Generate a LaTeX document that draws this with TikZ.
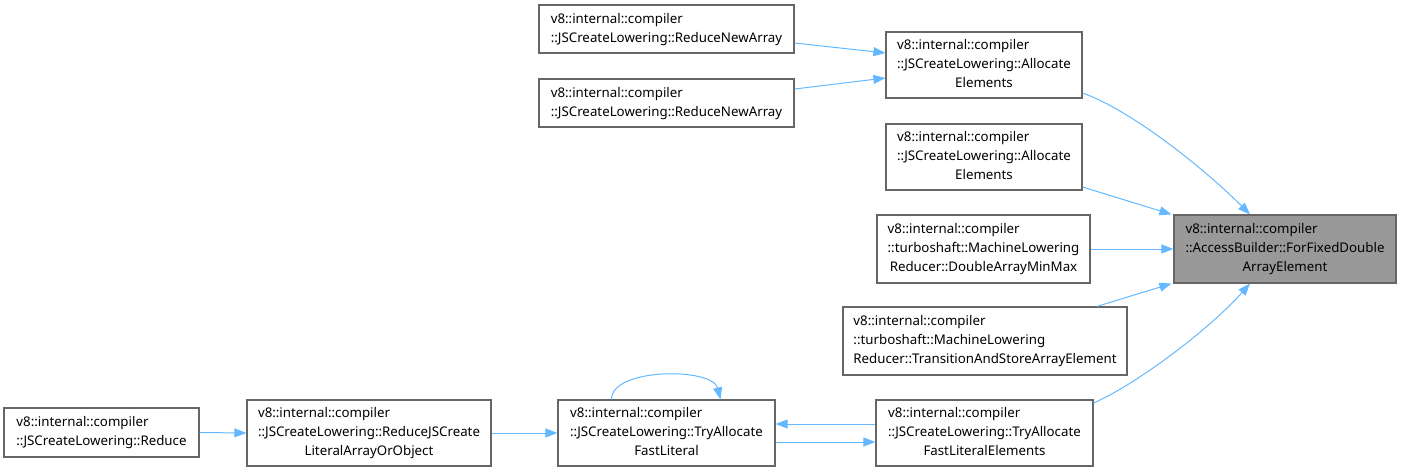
\documentclass[tikz,border=0pt]{standalone}
\usepackage{fontspec}
\setmainfont{Noto Sans}
\usepackage{array}
\usetikzlibrary{arrows.meta}
\definecolor{cedge}{RGB}{99,184,255}
\definecolor{cframe}{RGB}{102,102,102}
\definecolor{chigh}{RGB}{153,153,153}
\tikzset{
  box/.style={draw=cframe, line width=1.2pt, fill=white, inner sep=0pt,
              font=\fontsize{13.3}{19}\selectfont},
  hbox/.style={box, fill=chigh},
  arr/.style={-{Triangle[length=12pt, width=9pt]}, line width=1pt, draw=cedge},
}
% lines left aligned, last line centred
\newcommand{\fname}[2]{\begin{tabular}{@{}l@{}}#1\\\multicolumn{1}{@{}c@{}}{#2}\end{tabular}}

\begin{document}
\begin{tikzpicture}[x=1pt, y=-1pt]
\useasboundingbox (0,0) rectangle (1402,473);

% ---------- callees (right column) ----------
\node[hbox, minimum width=222pt, minimum height=68pt] (target) at (1285,249)
  {\fname{v8::internal::compiler\\::AccessBuilder::ForFixedDouble}{ArrayElement}};

% ---------- direct callers ----------
\node[box, minimum width=196pt, minimum height=66pt] (alloc1) at (984,65)
  {\fname{v8::internal::compiler\\::JSCreateLowering::Allocate}{Elements}};
\node[box, minimum width=196pt, minimum height=66pt] (alloc2) at (984,157)
  {\fname{v8::internal::compiler\\::JSCreateLowering::Allocate}{Elements}};
\node[box, minimum width=213pt, minimum height=68pt] (minmax) at (983.5,249)
  {\fname{v8::internal::compiler\\::turboshaft::MachineLowering}{Reducer::DoubleArrayMinMax}};
\node[box, minimum width=284pt, minimum height=68pt] (store) at (985,341)
  {\fname{v8::internal::compiler\\::turboshaft::MachineLowering}{Reducer::TransitionAndStoreArrayElement}};
\node[box, minimum width=217pt, minimum height=66pt] (fastel) at (984.5,433)
  {\fname{v8::internal::compiler\\::JSCreateLowering::TryAllocate}{FastLiteralElements}};

% ---------- second level ----------
\node[box, minimum width=255pt, minimum height=48pt] (newarr1) at (666.5,29)
  {\fname{v8::internal::compiler}{::JSCreateLowering::ReduceNewArray}};
\node[box, minimum width=255pt, minimum height=48pt] (newarr2) at (666.5,103)
  {\fname{v8::internal::compiler}{::JSCreateLowering::ReduceNewArray}};
\node[box, minimum width=217pt, minimum height=66pt] (fastlit) at (666.5,433)
  {\fname{v8::internal::compiler\\::JSCreateLowering::TryAllocate}{FastLiteral}};
\node[box, minimum width=244pt, minimum height=66pt] (literal) at (369,433)
  {\fname{v8::internal::compiler\\::JSCreateLowering::ReduceJSCreate}{LiteralArrayOrObject}};
\node[box, minimum width=195pt, minimum height=49pt] (reduce) at (101.5,432.5)
  {\fname{v8::internal::compiler}{::JSCreateLowering::Reduce}};

% ---------- edges ----------
\draw[arr] ([yshift=-14pt]newarr1.east) -- ([yshift=12pt]alloc1.west);
\draw[arr] ([yshift=14pt]newarr2.east) -- ([yshift=-13pt]alloc1.west);
\draw[arr] ([yshift=-28pt]alloc1.east) .. controls +(50,18) and +(-45,-45) .. ([xshift=-35pt]target.north);
\draw[arr] ([yshift=-30pt]alloc2.east) -- ([xshift=-2pt]target.north west);
\draw[arr] (minmax.east) -- (target.west);
\draw[arr] ([xshift=112pt]store.north) -- ([xshift=-2pt]target.south west);
\draw[arr] ([yshift=30pt]fastel.east) .. controls +(45,-20) and +(-40,45) .. ([xshift=-35pt]target.south);
\draw[arr] (reduce.east) -- (literal.west);
\draw[arr] (literal.east) -- (fastlit.west);
\draw[arr] ([yshift=9pt]fastel.west) -- ([yshift=9pt]fastlit.east);
\draw[arr] ([yshift=-9pt]fastlit.east) -- ([yshift=-9pt]fastel.west);
\draw[arr] ([xshift=-55pt]fastlit.north) .. controls +(0,-32) and +(-8,-32) .. ([xshift=54pt]fastlit.north);

\end{tikzpicture}
\end{document}
